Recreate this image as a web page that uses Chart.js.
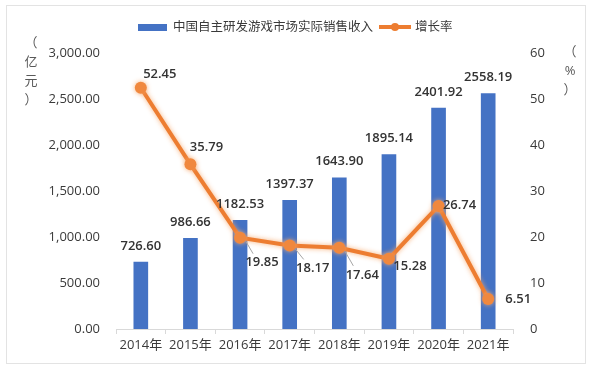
<!DOCTYPE html>
<html>
<head>
<meta charset="utf-8">
<script src="https://cdn.jsdelivr.net/npm/chart.js@4"></script>
<style>
  html, body { margin: 0; padding: 0; background: #fff; }
  #wrap { width: 594px; height: 373px; }
</style>
</head>
<body>
<div id="wrap"><canvas id="chart" width="594" height="373"></canvas></div>
<script>
/* ---- data ---- */
const years = ['2014年', '2015年', '2016年', '2017年', '2018年', '2019年', '2020年', '2021年'];
const revenue = [726.60, 986.66, 1182.53, 1397.37, 1643.90, 1895.14, 2401.92, 2558.19];
const growth = [52.45, 35.79, 19.85, 18.17, 17.64, 15.28, 26.74, 6.51];
const revenueTicks = [0, 500, 1000, 1500, 2000, 2500, 3000];
const growthTicks = [0, 10, 20, 30, 40, 50, 60];

const revenueName = '中国自主研发游戏市场实际销售收入';
const growthName = '增长率';

/* label placement for the growth line, relative to the point */
const growthLabelOffsets = [[19, -13], [16, -17], [22, 25], [23, 23], [23, 27], [21, 8], [21, -1], [30, 0]];
const growthLeaders = [false, false, true, true, true, false, false, false];

const BLUE = '#4472C4';
const ORANGE = '#ED7D31';
const TEXT = '#3A3A3A';
const FONT = '"Open Sans", "Noto Sans CJK SC", sans-serif';

function fmt2(v) {
    return v.toLocaleString('en-US', { minimumFractionDigits: 2, maximumFractionDigits: 2 });
}

const frame = {
    id: 'frame',
    beforeDraw(chart) {
        const ctx = chart.ctx;
        ctx.save();
        ctx.fillStyle = '#fff';
        ctx.fillRect(0, 0, chart.width, chart.height);
        ctx.strokeStyle = '#E3E3E3';
        ctx.lineWidth = 1;
        ctx.strokeRect(6.5, 5.5, 579, 358);
        ctx.restore();
    }
};

const glow = {
    id: 'glow',
    beforeDatasetDraw(chart, args) {
        if (args.meta.type !== 'line') return;
        const ctx = chart.ctx;
        ctx.save();
        ctx.shadowColor = 'rgba(247, 170, 110, 0.9)';
        ctx.shadowBlur = 5;
    },
    afterDatasetDraw(chart, args) {
        if (args.meta.type !== 'line') return;
        chart.ctx.restore();
    }
};

const labels = {
    id: 'labels',
    afterDatasetsDraw(chart) {
        const ctx = chart.ctx;
        ctx.save();
        ctx.font = '600 13px ' + FONT;
        ctx.fillStyle = '#333';
        ctx.textAlign = 'center';
        ctx.textBaseline = 'middle';

        const barMeta = chart.getDatasetMeta(1);
        barMeta.data.forEach((bar, i) => {
            ctx.fillText(revenue[i].toFixed(2), bar.x, bar.y - 16);
        });

        const lineMeta = chart.getDatasetMeta(0);
        lineMeta.data.forEach((pt, i) => {
            const [dx, dy] = growthLabelOffsets[i];
            if (growthLeaders[i]) {
                ctx.strokeStyle = '#A6A6A6';
                ctx.lineWidth = 1;
                ctx.beginPath();
                ctx.moveTo(pt.x + 6, pt.y + 4);
                ctx.lineTo(pt.x + dx - 9, pt.y + dy - 9);
                ctx.stroke();
            }
            ctx.fillText(growth[i].toFixed(2), pt.x + dx, pt.y + dy);
        });

        // axis unit captions
        ctx.font = '13px ' + FONT;
        ctx.fillStyle = '#595959';
        ['（', '亿', '元', '）'].forEach((c, i) => ctx.fillText(c, 31, 43 + i * 19));
        ['（', '%', '）'].forEach((c, i) => ctx.fillText(c, 570, 52 + i * 19));

        // legend
        ctx.font = '12.5px ' + FONT;
        ctx.fillStyle = BLUE;
        ctx.fillRect(138, 24, 29, 7);
        ctx.fillStyle = TEXT;
        ctx.textAlign = 'left';
        ctx.fillText(revenueName, 173, 27);
        ctx.strokeStyle = ORANGE;
        ctx.lineWidth = 4;
        ctx.beginPath();
        ctx.moveTo(379, 27);
        ctx.lineTo(411, 27);
        ctx.stroke();
        ctx.fillStyle = ORANGE;
        ctx.beginPath();
        ctx.arc(395, 27, 4, 0, Math.PI * 2);
        ctx.fill();
        ctx.fillStyle = TEXT;
        ctx.fillText(growthName, 415, 27);
        ctx.restore();
    }
};

new Chart(document.getElementById('chart'), {
    data: {
        labels: years,
        datasets: [
            {
                type: 'line',
                label: growthName,
                data: growth,
                yAxisID: 'y1',
                order: 0,
                borderColor: ORANGE,
                backgroundColor: ORANGE,
                borderWidth: 4,
                pointRadius: 6,
                pointBorderWidth: 0,
                pointBackgroundColor: '#F0883E',
                tension: 0
            },
            {
                type: 'bar',
                label: revenueName,
                data: revenue,
                yAxisID: 'y',
                order: 1,
                backgroundColor: BLUE,
                barThickness: 14
            }
        ]
    },
    options: {
        responsive: false,
        animation: false,
        layout: { padding: { top: 53, left: 0, right: 0, bottom: 0 } },
        plugins: {
            legend: { display: false },
            tooltip: { enabled: false }
        },
        scales: {
            x: {
                grid: {
                    display: true,
                    drawOnChartArea: false,
                    offset: true,
                    tickLength: 5,
                    color: '#D9D9D9'
                },
                border: { color: '#D9D9D9' },
                ticks: { color: TEXT, font: { family: FONT, size: 13 }, padding: 3, maxRotation: 0 },
                afterFit(scale) { scale.height = 44; }
            },
            y: {
                position: 'left',
                min: revenueTicks[0],
                max: revenueTicks[revenueTicks.length - 1],
                grid: { display: false },
                border: { display: false },
                afterBuildTicks(scale) { scale.ticks = revenueTicks.map(v => ({ value: v })); },
                ticks: {
                    color: TEXT,
                    padding: 8,
                    font: { family: FONT, size: 13 },
                    callback: v => fmt2(v)
                },
                afterFit(scale) { scale.width = 116; }
            },
            y1: {
                position: 'right',
                min: growthTicks[0],
                max: growthTicks[growthTicks.length - 1],
                grid: { display: false },
                border: { display: false },
                afterBuildTicks(scale) { scale.ticks = growthTicks.map(v => ({ value: v })); },
                ticks: {
                    color: TEXT,
                    padding: 9,
                    font: { family: FONT, size: 13 }
                },
                afterFit(scale) { scale.width = 81; }
            }
        }
    },
    plugins: [frame, glow, labels]
});
</script>
</body>
</html>
